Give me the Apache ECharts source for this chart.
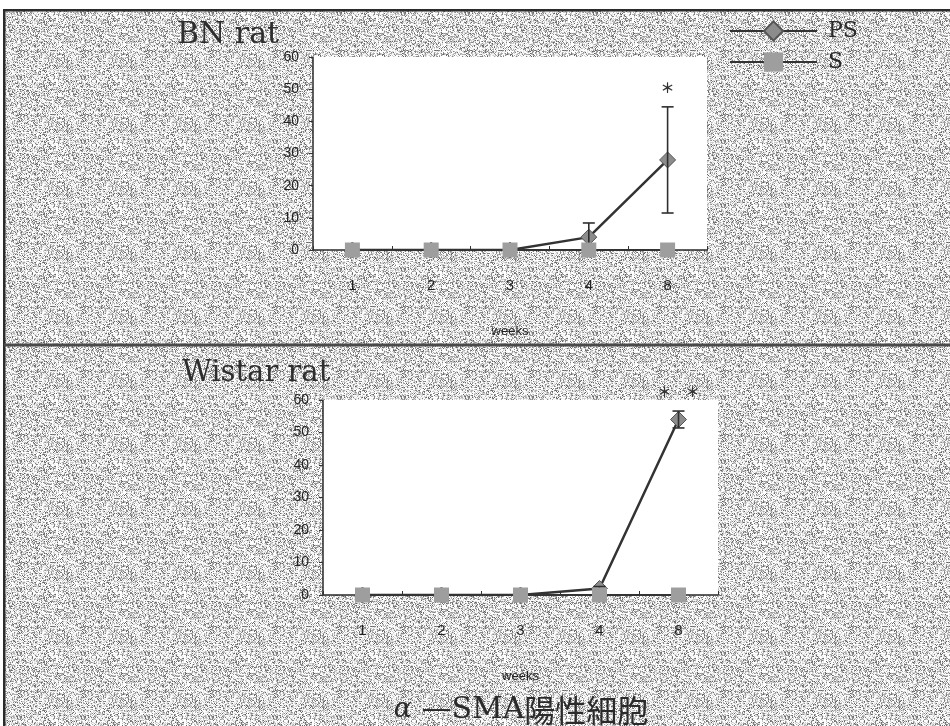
<!DOCTYPE html>
<html><head><meta charset="utf-8">
<script src="https://cdn.jsdelivr.net/npm/echarts@6/dist/echarts.min.js"></script>
<style>html,body{margin:0;padding:0;background:#fff}#c{width:950px;height:726px}</style>
</head><body><div id="c"></div>
<script>
// ---- data ----
const weeks = ['1', '2', '3', '4', '8'];
const bnPS = [0, 0, 0, 4, 28];
const bnPSErr = [0, 0, 0, 4.4, 16.5];
const bnS = [0, 0, 0, 0, 0];
const bnStars = ['', '', '', '', '＊'];
const wsPS = [0, 0, 0, 2, 54];
const wsPSErr = [0, 0, 0, 0.6, 2.6];
const wsS = [0, 0, 0, 0, 0];
const wsStars = ['', '', '', '', '＊　＊'];
const yMax = 60;
const yStep = 10;
const seriesNames = ['PS', 'S'];

// ---- halftone-like background texture (fixed hash, purely decorative) ----
const T = 64;
const tile = document.createElement('canvas');
tile.width = T; tile.height = T;
const tctx = tile.getContext('2d');
const img = tctx.createImageData(T, T);
const levels = [255, 250, 240, 225, 205, 175, 140, 100];
for (let y = 0; y < T; y++) {
  for (let x = 0; x < T; x++) {
    let h = Math.imul(x + 1, 0x9E3779B1) ^ Math.imul(y + 7, 0x85EBCA77);
    h ^= h >>> 15; h = Math.imul(h, 0x2C1B3C6D);
    h ^= h >>> 12; h = Math.imul(h, 0x297A2D39);
    h ^= h >>> 15;
    let v = levels[(h >>> 0) % 8];
    if ((x + y) % 2 === 0) v = Math.min(255, v + 30);
    const i = (y * T + x) * 4;
    img.data[i] = img.data[i + 1] = img.data[i + 2] = v;
    img.data[i + 3] = 255;
  }
}
tctx.putImageData(img, 0, 0);

const chart = echarts.init(document.getElementById('c'), null, {renderer: 'canvas'});

function makeErr(stars) {
  return function (params, api) {
    const x = api.value(0), y = api.value(1), e = api.value(2);
    const top = api.coord([x, y + e]);
    const bot = api.coord([x, y - e]);
    const children = [];
    const ls = {stroke: '#2e2e2e', lineWidth: 1.6};
    if (e > 0) {
      children.push({type: 'line', shape: {x1: top[0], y1: top[1], x2: bot[0], y2: bot[1]}, style: ls});
      children.push({type: 'line', shape: {x1: top[0]-6, y1: top[1], x2: top[0]+6, y2: top[1]}, style: ls});
      children.push({type: 'line', shape: {x1: bot[0]-6, y1: bot[1], x2: bot[0]+6, y2: bot[1]}, style: ls});
    }
    const s = stars[params.dataIndex];
    if (s) {
      children.push({type: 'text', x: top[0], y: top[1] - 19,
        style: {text: s, font: 'bold 14px "Noto Sans CJK JP"', fill: '#333', align: 'center', verticalAlign: 'middle'}});
    }
    return {type: 'group', children: children};
  };
}

function xAxisOpt(gi) {
  return {
    type: 'category', gridIndex: gi, data: weeks, boundaryGap: true,
    name: 'weeks', nameLocation: 'middle', nameGap: 75,
    nameTextStyle: {fontFamily: 'Liberation Sans', fontSize: 13, color: '#222'},
    axisLine: {lineStyle: {color: '#2a2a2a', width: 1.5}},
    axisTick: {show: true, inside: true, length: 4, lineStyle: {color: '#333'}},
    axisLabel: {margin: 28, fontFamily: 'Liberation Sans', fontSize: 15, color: '#222'},
    splitLine: {show: false}
  };
}
function yAxisOpt(gi) {
  return {
    type: 'value', gridIndex: gi, min: 0, max: yMax, interval: yStep,
    axisLine: {show: true, lineStyle: {color: '#2a2a2a', width: 1.5}},
    axisTick: {show: true, inside: false, length: 4, lineStyle: {color: '#333'}},
    axisLabel: {margin: 14, fontFamily: 'Liberation Sans', fontSize: 14, color: '#222'},
    splitLine: {show: false}
  };
}
function psSeries(gi, data) {
  return {
    name: seriesNames[0], type: 'line', xAxisIndex: gi, yAxisIndex: gi, data: data,
    symbol: 'diamond', symbolSize: 16, z: 3,
    lineStyle: {color: '#333', width: 2.5},
    itemStyle: {color: '#8c8c8c', borderColor: '#555', borderWidth: 1}
  };
}
function sSeries(gi, data) {
  return {
    name: seriesNames[1], type: 'line', xAxisIndex: gi, yAxisIndex: gi, data: data,
    symbol: 'rect', symbolSize: 15, z: 5,
    lineStyle: {color: '#333', width: 2},
    itemStyle: {color: '#9e9e9e'}
  };
}
function errSeries(gi, vals, errs, stars) {
  return {
    type: 'custom', xAxisIndex: gi, yAxisIndex: gi, z: 4, clip: false,
    renderItem: makeErr(stars),
    data: vals.map((v, i) => [i, v, errs[i]])
  };
}

const option = {
  animation: false,
  backgroundColor: '#fff',
  grid: [
    {left: 313, top: 57, width: 394, height: 193, show: true, backgroundColor: '#fff', borderWidth: 0},
    {left: 323, top: 400, width: 395, height: 195, show: true, backgroundColor: '#fff', borderWidth: 0}
  ],
  xAxis: [xAxisOpt(0), xAxisOpt(1)],
  yAxis: [yAxisOpt(0), yAxisOpt(1)],
  legend: {
    data: seriesNames, orient: 'vertical', left: 724, top: 15,
    itemWidth: 87, itemHeight: 24, itemGap: 9,
    textStyle: {fontFamily: 'DejaVu Serif', fontSize: 22, color: '#2a2a2a', padding: [0, 0, 0, 6]}
  },
  graphic: [
    {type: 'rect', z: -10, shape: {x: 5, y: 10, width: 945, height: 716},
      style: {fill: {image: tile, repeat: 'repeat'}}},
    {type: 'rect', z: -5, shape: {x: 4, y: 9, width: 946, height: 2.5}, style: {fill: '#2b2b2b'}},
    {type: 'rect', z: -5, shape: {x: 3, y: 9, width: 2.5, height: 717}, style: {fill: '#2b2b2b'}},
    {type: 'rect', z: -5, shape: {x: 4, y: 343.5, width: 946, height: 3}, style: {fill: '#4a4a4a'}},
    {type: 'text', x: 177, y: 35, style: {text: 'BN rat', font: '30px "DejaVu Serif"', fill: '#2e2e2e', verticalAlign: 'middle'}},
    {type: 'text', x: 182, y: 373, style: {text: 'Wistar rat', font: '29px "DejaVu Serif"', fill: '#2e2e2e', verticalAlign: 'middle'}},
    {type: 'text', x: 521, y: 710, style: {
      text: '{a|α}{b| —SMA}{c|陽性細胞}', align: 'center', verticalAlign: 'middle',
      rich: {
        a: {fontFamily: 'DejaVu Serif', fontStyle: 'italic', fontSize: 27, fill: '#2a2a2a'},
        b: {fontFamily: 'DejaVu Serif', fontSize: 30, fill: '#2a2a2a'},
        c: {fontFamily: 'Noto Sans CJK JP', fontSize: 31, fill: '#2a2a2a'}
      }
    }}
  ],
  series: [
    psSeries(0, bnPS), errSeries(0, bnPS, bnPSErr, bnStars), sSeries(0, bnS),
    psSeries(1, wsPS), errSeries(1, wsPS, wsPSErr, wsStars), sSeries(1, wsS)
  ]
};
chart.setOption(option);
</script>
</body></html>
